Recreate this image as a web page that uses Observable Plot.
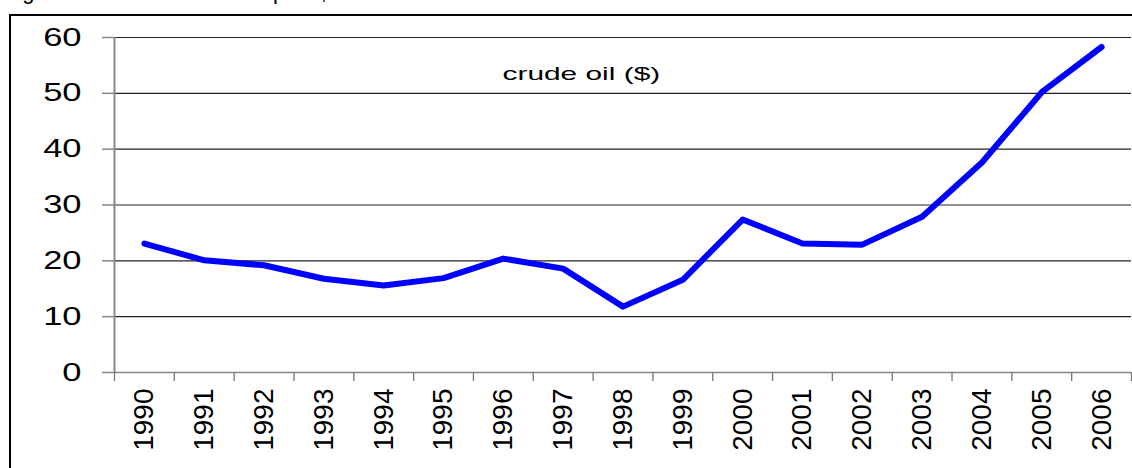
<!DOCTYPE html>
<html>
<head>
<meta charset="utf-8">
<script src="https://cdn.jsdelivr.net/npm/d3@7"></script>
<script src="https://cdn.jsdelivr.net/npm/@observablehq/plot@0.6"></script>
<style>
  html, body { margin: 0; padding: 0; background: #fff; overflow: hidden; }
  #wrap { position: relative; width: 1132px; height: 468px; overflow: hidden; font-family: "Liberation Sans", Arial, sans-serif; }
  #title { position: absolute; left: 4px; top: -21px; font-size: 22px; line-height: 25px; color: #000; white-space: nowrap; }
  #frame { position: absolute; left: 9px; top: 14px; width: 1200px; height: 600px; border-left: 2px solid #000; border-top: 2px solid #000; }
  #chart { position: absolute; left: 0; top: 0; }
</style>
</head>
<body>
<div id="wrap">
  <div id="title">Figure 1: Nominal crude oil price, 1990-2006</div>
  <div id="frame"></div>
  <div id="chart"></div>
</div>
<script>
const years = [1990, 1991, 1992, 1993, 1994, 1995, 1996, 1997, 1998, 1999, 2000, 2001, 2002, 2003, 2004, 2005, 2006];
const crudeOil = [23.1, 20.1, 19.2, 16.8, 15.6, 16.9, 20.4, 18.6, 11.8, 16.6, 27.4, 23.1, 22.9, 27.9, 37.6, 50.2, 58.3];
const yTicks = [0, 10, 20, 30, 40, 50, 60];
const seriesLabel = "crude oil ($)";

const data = years.map((y, i) => ({year: y, value: crudeOil[i]}));
const boundaries = [years[0] - 0.5, ...years.map(y => y + 0.5)];

const chart = Plot.plot({
  width: 1132,
  height: 468,
  marginLeft: 114,
  marginRight: 1,
  marginTop: 37,
  marginBottom: 96,
  style: {background: "transparent", fontFamily: "Liberation Sans, Arial, sans-serif", color: "#000"},
  x: {domain: [years[0] - 0.5, years[years.length - 1] + 0.5]},
  y: {domain: [0, 60]},
  marks: [
    Plot.gridY(yTicks, {stroke: "#222", strokeOpacity: 1, strokeWidth: 1.2}),
    Plot.axisY({ticks: yTicks, tickSize: 12, tickPadding: 21, stroke: "#888", strokeWidth: 1.5, fontSize: 25, label: null, tickFormat: d => String(d)}),
    Plot.ruleX([years[0] - 0.5], {stroke: "#888", strokeWidth: 2}),
    Plot.ruleY([0], {stroke: "#888", strokeWidth: 1.5}),
    Plot.axisX({ticks: boundaries, tickSize: 9, stroke: "#777", strokeWidth: 1.3, tickFormat: () => "", label: null}),
    Plot.axisX({ticks: years, tickSize: 0, tickRotate: -90, tickPadding: 16, fontSize: 28, label: null, tickFormat: d => String(d)}),
    Plot.line(data, {x: "year", y: "value", stroke: "#0000ff", strokeWidth: 6, strokeLinecap: "round", strokeLinejoin: "round"}),
    Plot.text([seriesLabel], {frameAnchor: "top-left", dx: 388, dy: 30, text: d => d, fontSize: 18, textAnchor: "start", fill: "#000"})
  ]
});
document.getElementById("chart").appendChild(chart);

function stretch(el, sx) {
  const x = parseFloat(el.getAttribute("x")) || 0;
  const t = el.getAttribute("transform") || "";
  el.setAttribute("transform", `${t} translate(${x},0) scale(${sx},1) translate(${-x},0)`);
}
d3.select(chart).selectAll("[aria-label='y-axis tick label'] text").each(function() { stretch(this, 1.38); });
d3.select(chart).selectAll("[aria-label='text'] text").each(function() { stretch(this, 1.66); });
</script>
</body>
</html>
